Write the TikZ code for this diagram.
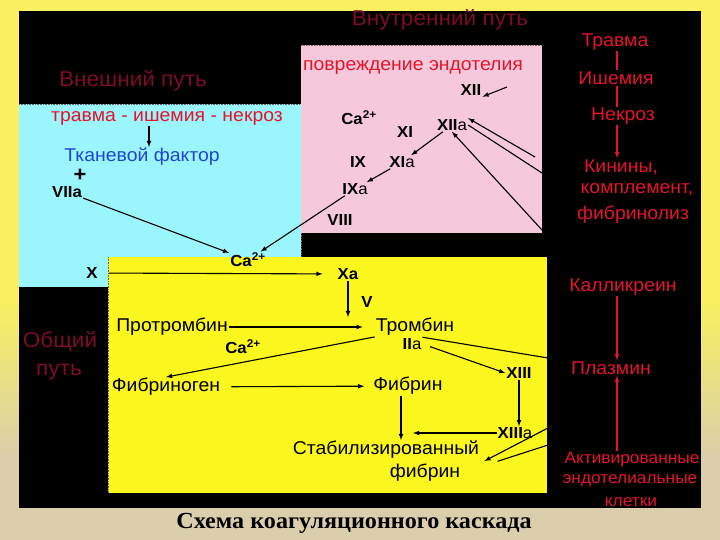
\documentclass[tikz,border=0pt]{standalone}
\usepackage{fontspec}
\setmainfont[FakeStretch=1.05]{Liberation Sans}
\newfontfamily\titleserif[FakeStretch=1.05]{Liberation Serif}
\usetikzlibrary{arrows}

\definecolor{bgyellow}{RGB}{248,240,96}
\definecolor{bgbeige}{RGB}{218,206,172}
\definecolor{cyanbox}{RGB}{155,245,252}
\definecolor{pinkbox}{RGB}{245,200,220}
\definecolor{yellowbox}{RGB}{250,246,30}
\definecolor{darkred}{RGB}{125,12,36}
\definecolor{lightred}{RGB}{228,20,42}
\definecolor{tfblue}{RGB}{30,70,210}

\begin{document}
\begin{tikzpicture}[x=1pt,y=-1pt]

\tikzstyle{pathtitle} = [text=darkred, font=\fontsize{21.5}{24}\selectfont, inner sep=1pt]
\tikzstyle{sidelabel} = [text=lightred, font=\fontsize{18.5}{21}\selectfont, inner sep=1pt]
\tikzstyle{sidesmall} = [text=lightred, font=\fontsize{16.5}{19}\selectfont, inner sep=1pt]
\tikzstyle{term} = [text=black, font=\fontsize{18.5}{21}\selectfont, inner sep=1pt]
\tikzstyle{factor} = [text=black, font=\fontsize{16}{18}\selectfont\bfseries, inner sep=1pt]
\tikzstyle{arr} = [-latex, line width=1.1pt]
\tikzstyle{redarr} = [-latex, lightred, line width=1.1pt]
\tikzstyle{redline} = [lightred, line width=1.1pt]
\tikzstyle{boxedge} = [densely dotted, draw=black!60, line width=0.6pt]

\useasboundingbox (0,0) rectangle (720,540);
\fill[bgyellow] (0,0) rectangle (720,540);
\shade[top color=bgyellow, bottom color=bgbeige] (0,300) rectangle (720,460);
\fill[bgbeige] (0,460) rectangle (720,540);
\fill[black] (19,11) rectangle (701,508);
\fill[cyanbox] (19,104) rectangle (301,287);
\draw[boxedge] (19,104) -- (301,104) -- (301,287);
\fill[pinkbox] (301,45) rectangle (542,233);
\draw[boxedge] (301,45) -- (542,45);
\fill[yellowbox] (108,257) rectangle (547,493);
\draw[boxedge] (108,257) -- (108,493);

% titles
\node[pathtitle] (inner) at (440,20) {Внутренний путь};
\node[pathtitle] (outer) at (133,81) {Внешний путь};
\node[pathtitle] (common1) at (60,342) {Общий};
\node[pathtitle] (common2) at (59,372) {путь};

% right column
\node[sidelabel] (trauma) at (615,42) {Травма};
\node[sidelabel] (ischemia) at (616,78) {Ишемия};
\node[sidelabel] (necrosis) at (623,116) {Некроз};
\node[sidelabel] (kinins) at (621,167) {Кинины,};
\node[sidelabel] (complement) at (637,190) {комплемент,};
\node[sidelabel] (fibrinolysis) at (633,215) {фибринолиз};
\node[sidelabel] (kallikrein) at (623,287) {Калликреин};
\node[sidelabel] (plasmin) at (611,368) {Плазмин};
\node[sidesmall] (activated) at (632,460) {Активированные};
\node[sidesmall] (endothelial) at (630,481) {эндотелиальные};
\node[sidesmall] (cells) at (631,502) {клетки};

\draw[redline] ([xshift=2pt]trauma.south) -- ([xshift=2pt]trauma.south |- ischemia.north);
\draw[redline] ([xshift=1pt]ischemia.south) -- ([xshift=1pt]ischemia.south |- necrosis.north);
\draw[redarr] ([xshift=1pt]ischemia.south |- necrosis.south) -- ([xshift=1pt]ischemia.south |- kinins.north);
\draw[redarr] ([xshift=-6pt]kallikrein.south) -- ([xshift=-6pt]kallikrein.south |- plasmin.north);
\draw[redarr] ([xshift=-15pt]activated.north) -- ([xshift=-15pt]activated.north |- plasmin.south);

% extrinsic
\node[term, text=lightred] (tin) at (167,118) {травма - ишемия - некроз};
\node[term, text=tfblue] (tissue) at (142,157) {Тканевой фактор};
\node[factor, font=\fontsize{21}{23}\selectfont\bfseries] (plus) at (80,175) {+};
\node[factor] (f7a) at (67,192) {VIIa};
\draw[arr] ([xshift=-18pt]tin.south) -- ([xshift=-18pt]tin.south |- tissue.north);

% intrinsic
\node[term, text=lightred] (damage) at (413,67) {повреждение эндотелия};
\node[factor] (f12) at (471,90) {XII};
\node[factor] (caB) at (359,118) {Ca\textsuperscript{2+}};
\node[factor] (f11) at (405,132) {XI};
\node[factor] (f12a) at (452,125) {XII\mdseries a};
\node[factor] (f9) at (358,162) {IX};
\node[factor] (f11a) at (402,162) {XI\mdseries a};
\node[factor] (f9a) at (355,189) {IX\mdseries a};
\node[factor] (f8) at (340,220) {VIII};
\coordinate (in12) at (507,87);
\coordinate (inA) at (535,157);
\coordinate (outA) at (542,173);
\coordinate (inB) at (542,230);
\draw[arr] (in12) -- (f12.south east);
\draw[arr] (inA) -- (f12a.north east);
\draw[line width=1.1pt] (f12a.east) -- (outA);
\draw[arr] (inB) -- (f12a.south);
\draw[arr] (f12a) -- (f11a);
\draw[arr] (f11a) -- (f9a);

% common
\node[factor] (caA) at (248,260) {Ca\textsuperscript{2+}};
\node[factor] (f10) at (92,273) {X};
\node[factor] (f10a) at (348,274) {Xa};
\node[factor] (f5) at (367,302) {V};
\node[term] (prothrombin) at (172,327) {Протромбин};
\node[term] (thrombin) at (415,327) {Тромбин};
\node[factor] (f2a) at (412,344) {II\mdseries a};
\node[factor] (caC) at (243,347) {Ca\textsuperscript{2+}};
\node[term] (fibrinogen) at (166,387) {Фибриноген};
\node[term] (fibrin) at (408,386) {Фибрин};
\node[factor] (f13) at (519,373) {XIII};
\node[factor] (f13a) at (515,433) {XIII\mdseries a};
\node[term] (stable1) at (386,450) {Стабилизированный};
\node[term] (stable2) at (425,473) {фибрин};
\coordinate (outB) at (548,358);
\coordinate (inC) at (548,428);
\coordinate (inD) at (548,445);

\draw[arr] (f7a) -- (caA);
\draw[arr] (f9a) -- (caA);
\draw[arr, shorten <=10pt, shorten >=14pt] (f10) -- (f10a);
\draw[arr] (f10a) -- (f10a |- thrombin.north);
\draw[arr, shorten >=12pt] (prothrombin) -- (thrombin);
\draw[arr] (thrombin.south west) -- (fibrinogen.north);
\draw[arr, shorten <=10pt, shorten >=8pt] (fibrinogen) -- (fibrin);
\draw[line width=1.1pt] (f2a.north east) -- (outB);
\draw[arr, shorten <=8pt] (f2a.east) -- (f13.west);
\draw[arr] (f13.south) -- (f13.south |- f13a.north);
\draw[arr] (f13a.west) -- ([xshift=5pt]fibrin.south |- f13a.west);
\draw[arr] ([xshift=-7pt]fibrin.south) -- ([xshift=-7pt]fibrin.south |- stable1.north);
\draw[arr, shorten >=26pt] (inC) -- (stable2.east);
\draw[line width=1.1pt, shorten >=38pt] (inD) -- (stable2.east);

\node[font=\titleserif\bfseries\fontsize{23}{25}\selectfont] (title) at (354,523) {Схема коагуляционного каскада};

\end{tikzpicture}
\end{document}
